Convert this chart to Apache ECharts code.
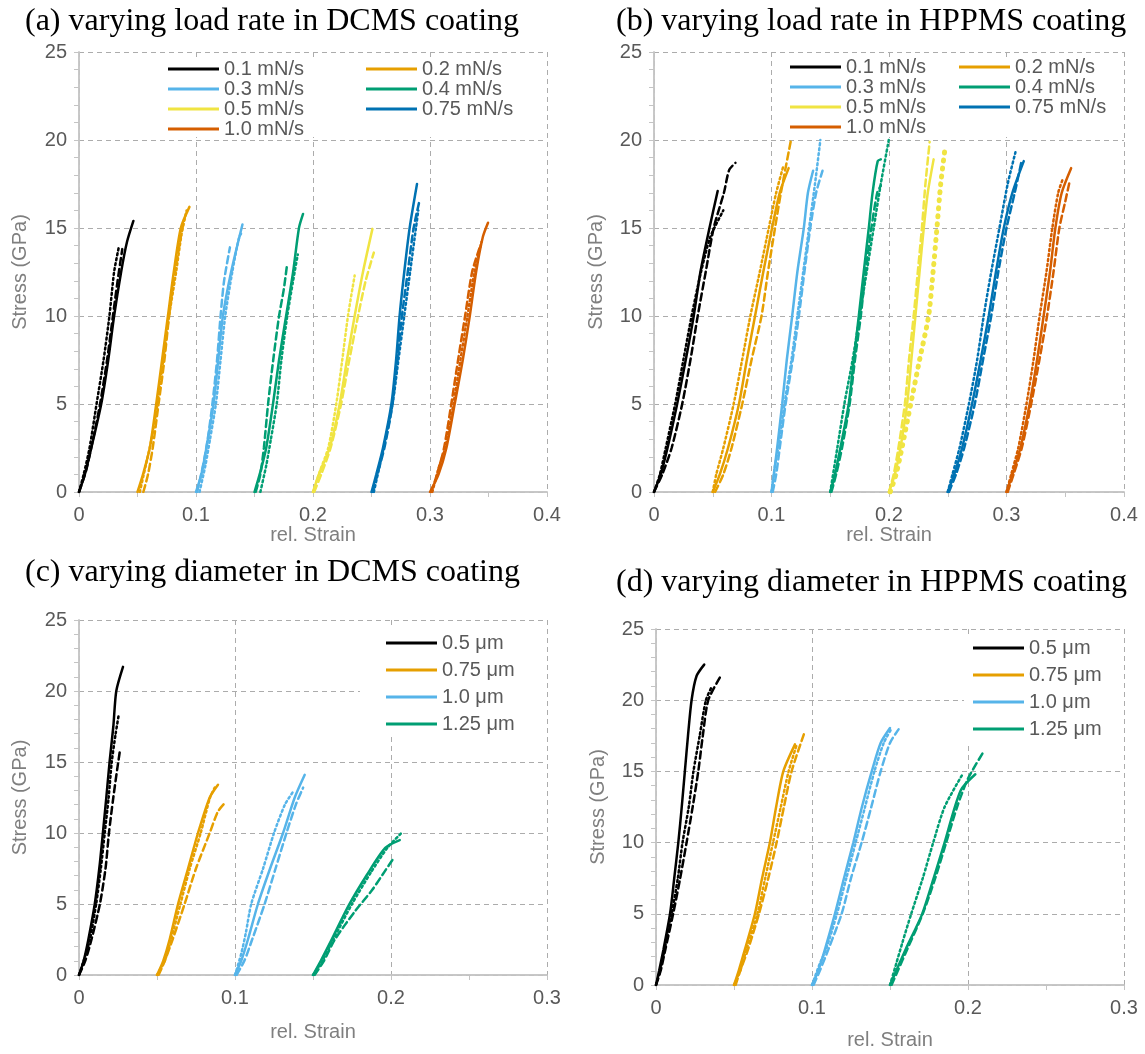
<!DOCTYPE html>
<html>
<head>
<meta charset="utf-8">
<script src="https://cdn.jsdelivr.net/npm/echarts@6/dist/echarts.min.js"></script>
<style>
  html, body { margin: 0; padding: 0; background: #fff; }
  #chart { width: 1145px; height: 1054px; }
</style>
</head>
<body>
<div id="chart"></div>
<script>
// legend names
const rateNames = ['0.1 mN/s', '0.2 mN/s', '0.3 mN/s', '0.4 mN/s', '0.5 mN/s', '0.75 mN/s', '1.0 mN/s']
const diamNames = ['0.5 μm', '0.75 μm', '1.0 μm', '1.25 μm']
const palette = ['#000000', '#E69F00', '#56B4E9', '#009E73', '#F0E442', '#0072B2', '#D55E00']

// tick values
const strainTicksAB = [0, 0.1, 0.2, 0.3, 0.4]
const strainTicksCD = [0, 0.1, 0.2, 0.3]
const stressTicks = [0, 5, 10, 15, 20, 25]

// ---- (a) load rate, DCMS : [strain, stress GPa] ----
const aBlack = [[0,0],[0.005,1],[0.0105,2.5],[0.019,5],[0.025,7.5],[0.030,10],[0.036,12.5],[0.041,14.2],[0.0465,15.4]]
const aBlackDash = [[0,0],[0.006,1.2],[0.012,3],[0.018,5],[0.024,7.5],[0.029,10],[0.033,12],[0.037,13.8]]
const aBlackDot = [[0,0],[0.004,1],[0.009,2.5],[0.015,5],[0.021,7.5],[0.026,10],[0.030,12.5],[0.034,13.9]]
const aOrange = [[0.05,0],[0.0547,1],[0.0605,2.5],[0.066,5],[0.071,7.5],[0.076,10],[0.081,12.5],[0.087,15],[0.0944,16.2]]
const aOrangeDash = [[0.055,0],[0.059,1],[0.063,2.5],[0.068,5],[0.073,7.5],[0.077,10],[0.082,12.5],[0.087,14.5],[0.090,15.5]]
const aOrangeDot = [[0.052,0],[0.057,1.5],[0.062,3],[0.067,5],[0.072,7.5],[0.077,10],[0.083,12.5],[0.088,14.8],[0.092,16]]
const aSky = [[0.1,0],[0.1046,1],[0.1089,2.5],[0.115,5],[0.119,7.5],[0.123,10],[0.130,12.5],[0.1397,15.2]]
const aSkyDash = [[0.101,0],[0.106,1.5],[0.110,3],[0.114,5],[0.118,7.5],[0.121,10],[0.124,12],[0.129,13.9]]
const aSkyDot = [[0.103,0],[0.108,1.5],[0.112,3],[0.117,5],[0.121,7.5],[0.125,10],[0.131,12.5],[0.137,14.5],[0.140,14.8]]
const aGreen = [[0.15,0],[0.1544,1],[0.160,2.5],[0.1658,5],[0.171,7.5],[0.177,10],[0.183,12.5],[0.188,15],[0.1915,15.8]]
const aGreenDash = [[0.151,0],[0.155,1],[0.158,2.5],[0.1616,5],[0.166,7.5],[0.171,10],[0.175,11.5],[0.1778,12.9]]
const aGreenDot = [[0.155,0],[0.160,1.5],[0.164,3],[0.169,5],[0.173,7.5],[0.178,10],[0.183,12],[0.187,13.5]]
const aYellow = [[0.2,0],[0.205,1],[0.2142,2.5],[0.2228,5],[0.229,7.5],[0.2356,10],[0.2427,12.5],[0.2508,14.95]]
const aYellowDash = [[0.201,0],[0.207,1],[0.215,2.5],[0.224,5],[0.231,7.5],[0.2385,10],[0.245,12],[0.252,13.6]]
const aYellowDot = [[0.2,0],[0.206,1.2],[0.213,2.5],[0.2199,5],[0.225,7.5],[0.2299,10],[0.2356,12.3]]
const aBlue = [[0.25,0],[0.2541,1],[0.2598,2.5],[0.267,5],[0.271,7.5],[0.274,10],[0.278,12.5],[0.2826,15],[0.2889,17.5]]
const aBlueDash = [[0.251,0],[0.255,1],[0.261,2.5],[0.268,5],[0.272,7.5],[0.276,10],[0.281,12.5],[0.286,15],[0.2912,16.6]]
const aBlueDot = [[0.252,0],[0.257,1.5],[0.262,3],[0.268,5],[0.273,7.5],[0.278,10],[0.283,12.5],[0.288,15],[0.290,16]]
const aRed = [[0.3,0],[0.3073,1],[0.314,2.5],[0.3211,5],[0.328,7.5],[0.334,10],[0.3394,12.5],[0.3452,14.5],[0.3496,15.3]]
const aRedDash = [[0.301,0],[0.306,1],[0.312,2.5],[0.3182,5],[0.324,7.5],[0.330,10],[0.336,12.5],[0.3425,13.9]]
const aRedDot = [[0.302,0],[0.308,1.5],[0.313,2.5],[0.320,5],[0.326,7.5],[0.332,10],[0.338,12.5],[0.344,14.2]]

// ---- (b) load rate, HPPMS ----
const bBlack = [[0,0],[0.0057,1],[0.0115,2.5],[0.0197,5],[0.027,7.5],[0.0338,10],[0.0395,12.5],[0.0472,15],[0.0542,17.1]]
const bBlackDash = [[0,0],[0.007,1],[0.015,2.5],[0.024,5],[0.031,7.5],[0.0372,10],[0.044,12.5],[0.0508,15],[0.0595,17],[0.064,18.3],[0.0693,18.7]]
const bBlackDot = [[0,0],[0.005,1],[0.010,2.5],[0.018,5],[0.025,7.5],[0.032,10],[0.040,12.5],[0.048,14.5],[0.059,16]]
const bOrange = [[0.05,0],[0.056,1],[0.063,2.5],[0.0723,5],[0.079,7.5],[0.086,10],[0.093,12.5],[0.1005,15],[0.107,17],[0.1146,18.4]]
const bOrangeDash = [[0.052,0],[0.059,1],[0.066,2.5],[0.0751,5],[0.083,7.5],[0.0915,10],[0.097,12.5],[0.103,15],[0.108,17],[0.1163,19.9]]
const bOrangeDot = [[0.05,0],[0.053,1],[0.059,2.5],[0.0678,5],[0.075,7.5],[0.082,10],[0.090,12.5],[0.0977,15],[0.104,17],[0.110,18.5]]
const bSky = [[0.1,0],[0.102,1],[0.1048,2.5],[0.1091,5],[0.113,7.5],[0.1176,10],[0.122,12.5],[0.1275,15],[0.131,17],[0.1354,18.25]]
const bSkyDash = [[0.101,0],[0.104,1],[0.107,2.5],[0.112,5],[0.118,7.5],[0.1233,10],[0.128,12.5],[0.133,15],[0.138,17],[0.1434,18.25]]
const bSkyDot = [[0.1,0],[0.103,1.5],[0.107,3],[0.111,5],[0.117,7.5],[0.122,10],[0.127,12.5],[0.132,15],[0.137,17.5],[0.1416,20]]
const bGreen = [[0.15,0],[0.154,1],[0.1586,2.5],[0.1657,5],[0.170,7.5],[0.1743,10],[0.1785,12.5],[0.1828,15],[0.186,17],[0.1904,18.8],[0.193,18.9]]
const bGreenDash = [[0.151,0],[0.155,1],[0.160,2.5],[0.1665,5],[0.171,7.5],[0.176,10],[0.180,12.5],[0.185,15],[0.190,17],[0.193,17.4]]
const bGreenDot = [[0.15,0],[0.156,2.5],[0.162,5],[0.169,7.5],[0.175,10],[0.181,12.5],[0.187,15],[0.193,17.5],[0.1998,20]]
const bYellow = [[0.2,0],[0.205,1],[0.2097,2.5],[0.2154,5],[0.219,7.5],[0.2225,10],[0.226,12.5],[0.2296,15],[0.233,17],[0.238,18.9]]
const bYellowDash = [[0.2,0],[0.204,1],[0.208,2.5],[0.2135,5],[0.217,7.5],[0.221,10],[0.2245,12.5],[0.228,15],[0.231,17.5],[0.2346,19.9]]
const bYellowDot = [[0.201,0],[0.206,1],[0.211,2.5],[0.2185,5],[0.226,7.5],[0.2337,10],[0.2375,12.5],[0.2408,15],[0.244,17.5],[0.248,19.7]]
const bBlue = [[0.25,0],[0.2555,1],[0.2622,2.5],[0.2707,5],[0.278,7.5],[0.2849,10],[0.291,12.5],[0.2977,15],[0.305,17],[0.3147,18.8]]
const bBlueDash = [[0.251,0],[0.257,1],[0.264,2.5],[0.273,5],[0.280,7.5],[0.287,10],[0.293,12.5],[0.300,15],[0.307,17],[0.3125,18.7]]
const bBlueDot = [[0.25,0],[0.254,1],[0.260,2.5],[0.268,5],[0.275,7.5],[0.2806,10],[0.287,12.5],[0.294,15],[0.301,17.5],[0.3076,19.3]]
const bRed = [[0.3,0],[0.305,1],[0.3118,2.5],[0.3197,5],[0.326,7.5],[0.3316,10],[0.337,12.5],[0.3416,15],[0.347,17],[0.355,18.4]]
const bRedDash = [[0.301,0],[0.306,1],[0.313,2.5],[0.321,5],[0.328,7.5],[0.3345,10],[0.340,12.5],[0.345,15],[0.350,16.5],[0.3539,17.7]]
const bRedDot = [[0.3,0],[0.304,1],[0.310,2.5],[0.317,5],[0.323,7.5],[0.3282,10],[0.334,12.5],[0.339,15],[0.344,17],[0.348,17.8]]

// ---- (c) diameter, DCMS ----
const cBlack = [[0,0],[0.003,1],[0.006,2.5],[0.0101,5],[0.013,7.5],[0.0153,10],[0.0175,12.5],[0.0196,15],[0.022,17.5],[0.0239,20],[0.0282,21.7]]
const cBlackDash = [[0,0],[0.004,1],[0.008,2.5],[0.0134,5],[0.017,7.5],[0.0192,10],[0.022,12.5],[0.0245,14.5],[0.0261,15.7]]
const cBlackDot = [[0,0],[0.003,1],[0.007,2.5],[0.011,5],[0.014,7.5],[0.0165,10],[0.019,12.5],[0.021,15],[0.0235,17],[0.0256,18.4]]
const cOrange = [[0.05,0],[0.054,1],[0.0581,2.5],[0.0635,5],[0.0699,7.5],[0.0763,10],[0.0838,12.5],[0.0891,13.4]]
const cOrangeDash = [[0.051,0],[0.055,1],[0.060,2.5],[0.0677,5],[0.075,7.5],[0.0838,10],[0.089,11.5],[0.0934,12.1]]
const cOrangeDot = [[0.05,0],[0.055,1],[0.059,2.5],[0.065,5],[0.071,7.5],[0.078,10],[0.084,12.5],[0.087,13.2]]
const cSky = [[0.1,0],[0.104,1],[0.1083,2.5],[0.1147,5],[0.1225,7.5],[0.1308,10],[0.1383,12.5],[0.1447,14.1]]
const cSkyDash = [[0.101,0],[0.106,1],[0.111,2.5],[0.119,5],[0.126,7.5],[0.133,10],[0.139,12],[0.1437,13.2]]
const cSkyDot = [[0.1,0],[0.104,1.5],[0.107,3],[0.1104,5],[0.118,7.5],[0.125,10],[0.132,12],[0.1372,12.9]]
const cGreen = [[0.15,0],[0.155,1],[0.1613,2.35],[0.1729,4.9],[0.1846,7.06],[0.1963,8.95],[0.2056,9.5]]
const cGreenDash = [[0.151,0],[0.157,1],[0.164,2.5],[0.177,4.5],[0.188,6],[0.196,7.3],[0.2009,8.1]]
const cGreenDot = [[0.15,0],[0.156,1],[0.163,2.5],[0.175,5],[0.187,7.2],[0.198,9],[0.2067,10]]

// ---- (d) diameter, HPPMS ----
const dBlack = [[0,0],[0.002,1],[0.0048,2.5],[0.009,5],[0.0117,7.5],[0.0143,10],[0.0165,12.5],[0.0185,15],[0.0205,17.5],[0.0228,20],[0.026,21.7],[0.0309,22.5]]
const dBlackDash = [[0,0],[0.003,1],[0.006,2.5],[0.011,5],[0.0155,7.5],[0.0196,10],[0.0235,12.5],[0.0271,15],[0.030,17.5],[0.0335,20],[0.041,21.6]]
const dBlackDot = [[0,0],[0.0025,1],[0.0055,2.5],[0.010,5],[0.014,7.5],[0.017,10],[0.021,12.5],[0.024,15],[0.028,17.5],[0.032,20],[0.036,21]]
const dOrange = [[0.05,0],[0.053,1],[0.057,2.5],[0.0634,5],[0.068,7.5],[0.073,10],[0.077,12.5],[0.0816,15],[0.0891,16.9]]
const dOrangeDash = [[0.051,0],[0.054,1],[0.059,2.5],[0.066,5],[0.072,7.5],[0.0773,10],[0.082,12.5],[0.0869,15],[0.0951,17.7]]
const dOrangeDot = [[0.05,0],[0.054,1],[0.058,2.5],[0.065,5],[0.070,7.5],[0.075,10],[0.080,12.5],[0.085,15],[0.090,16.8]]
const dSky = [[0.1,0],[0.104,1],[0.1083,2.5],[0.1147,5],[0.1205,7.5],[0.1265,10],[0.132,12.5],[0.1383,15],[0.144,17],[0.150,18.05]]
const dSkyDash = [[0.101,0],[0.105,1],[0.1105,2.5],[0.119,5],[0.125,7.5],[0.1318,10],[0.138,12.5],[0.144,15],[0.150,17],[0.1555,17.95]]
const dSkyDot = [[0.1,0],[0.105,1.5],[0.109,2.5],[0.116,5],[0.122,7.5],[0.128,10],[0.134,12.5],[0.140,15],[0.146,17],[0.151,18]]
const dGreen = [[0.15,0],[0.154,1],[0.160,2.5],[0.1706,4.98],[0.178,7.5],[0.1847,9.9],[0.1953,13.66],[0.2047,14.8]]
const dGreenDash = [[0.151,0],[0.155,1],[0.161,2.5],[0.171,5],[0.179,7.5],[0.186,10],[0.193,12.5],[0.200,14.5],[0.2101,16.4]]
const dGreenDot = [[0.15,0],[0.154,1.5],[0.158,3],[0.1636,5],[0.171,7.5],[0.1777,10],[0.185,12.5],[0.1965,14.8]]

const chart = echarts.init(document.getElementById('chart'))

const GRID_LINE = '#acacac'
const AXIS_LINE = '#c4c4c4'
const SANS = 'Liberation Sans'

// panel layout
const grids = [
  { left: 79, top: 52, width: 468, height: 440 },
  { left: 654, top: 52, width: 470, height: 440 },
  { left: 79, top: 620, width: 468, height: 355 },
  { left: 656, top: 629, width: 468, height: 356 },
]
const xMax = [0.4, 0.4, 0.3, 0.3]
const xNameGap = [33, 33, 47, 45]
const yNameGap = [49, 48, 49, 48]

const xAxes = []
const yAxes = []
grids.forEach((g, i) => {
  xAxes.push({
    gridIndex: i, type: 'value', min: 0, max: xMax[i], interval: 0.1,
    name: 'rel. Strain', nameLocation: 'middle', nameGap: xNameGap[i],
    nameTextStyle: { color: '#7f7f7f', fontSize: 20, fontFamily: SANS },
    axisLine: { lineStyle: { color: AXIS_LINE, width: 1.5 } },
    axisTick: { show: true, length: 5, lineStyle: { color: AXIS_LINE } },
    minorTick: { show: true, splitNumber: 2, length: 5, lineStyle: { color: AXIS_LINE } },
    axisLabel: { color: '#595959', fontSize: 20, fontFamily: SANS, margin: 13 },
    splitLine: { show: true, lineStyle: { color: GRID_LINE, type: [5, 4] } },
  })
  xAxes.push({
    gridIndex: i, type: 'value', min: 0, max: xMax[i], interval: 0.1, position: 'top',
    axisLine: { show: true, lineStyle: { color: AXIS_LINE, width: 1.5 } },
    axisTick: { show: true, inside: true, length: 5, lineStyle: { color: AXIS_LINE } },
    minorTick: { show: true, splitNumber: 2, length: 5, lineStyle: { color: AXIS_LINE } },
    axisLabel: { show: false },
    splitLine: { show: false },
  })
  yAxes.push({
    gridIndex: i, type: 'value', min: 0, max: 25, interval: 5,
    name: 'Stress (GPa)', nameLocation: 'middle', nameGap: yNameGap[i], nameRotate: 90,
    nameTextStyle: { color: '#7f7f7f', fontSize: 20, fontFamily: SANS },
    axisLine: { show: true, lineStyle: { color: AXIS_LINE, width: 1.5 } },
    axisTick: { show: true, length: 5, lineStyle: { color: AXIS_LINE } },
    minorTick: { show: true, splitNumber: 5, length: 5, lineStyle: { color: AXIS_LINE } },
    axisLabel: { color: '#595959', fontSize: 20, fontFamily: SANS, margin: 12 },
    splitLine: { show: true, lineStyle: { color: GRID_LINE, type: [5, 4] } },
  })
  yAxes.push({
    gridIndex: i, type: 'value', min: 0, max: 25, interval: 5, position: 'right',
    axisLine: { show: true, lineStyle: { color: AXIS_LINE, width: 1.5 } },
    axisTick: { show: true, inside: true, length: 5, lineStyle: { color: AXIS_LINE } },
    minorTick: { show: true, splitNumber: 5, length: 5, lineStyle: { color: AXIS_LINE } },
    axisLabel: { show: false },
    splitLine: { show: false },
  })
})

const series = []
const DASH = [7, 4]
const DOT = [2, 3]
function addCurve(panel, name, color, data, type, width) {
  series.push({
    type: 'line', name: name, xAxisIndex: panel * 2, yAxisIndex: panel * 2,
    data: data, showSymbol: false, symbol: 'none', smooth: 0.25,
    lineStyle: { color: color, width: width || 2.5, type: type, cap: 'round' },
    itemStyle: { color: color },
    z: 2,
  })
}
function addGroup(panel, name, color, solid, dash, dot, dotWidth) {
  addCurve(panel, name, color, solid, 'solid')
  addCurve(panel, name + ' ', color, dash, DASH)
  addCurve(panel, name + '  ', color, dot, dotWidth ? [1, 7] : DOT, dotWidth)
}

const aSets = [[aBlack, aBlackDash, aBlackDot], [aOrange, aOrangeDash, aOrangeDot], [aSky, aSkyDash, aSkyDot],
  [aGreen, aGreenDash, aGreenDot], [aYellow, aYellowDash, aYellowDot], [aBlue, aBlueDash, aBlueDot], [aRed, aRedDash, aRedDot]]
const bSets = [[bBlack, bBlackDash, bBlackDot], [bOrange, bOrangeDash, bOrangeDot], [bSky, bSkyDash, bSkyDot],
  [bGreen, bGreenDash, bGreenDot], [bYellow, bYellowDash, bYellowDot], [bBlue, bBlueDash, bBlueDot], [bRed, bRedDash, bRedDot]]
const cSets = [[cBlack, cBlackDash, cBlackDot], [cOrange, cOrangeDash, cOrangeDot], [cSky, cSkyDash, cSkyDot], [cGreen, cGreenDash, cGreenDot]]
const dSets = [[dBlack, dBlackDash, dBlackDot], [dOrange, dOrangeDash, dOrangeDot], [dSky, dSkyDash, dSkyDot], [dGreen, dGreenDash, dGreenDot]]

aSets.forEach((s, i) => addGroup(0, rateNames[i], palette[i], s[0], s[1], s[2]))
bSets.forEach((s, i) => addGroup(1, rateNames[i], palette[i], s[0], s[1], s[2], i === 4 ? 5 : 0))
cSets.forEach((s, i) => addGroup(2, diamNames[i], palette[i], s[0], s[1], s[2]))
dSets.forEach((s, i) => addGroup(3, diamNames[i], palette[i], s[0], s[1], s[2]))

function legend(left, top, names, gap) {
  return {
    left: left, top: top, orient: 'vertical', data: names, z: 10,
    icon: 'rect', itemWidth: 51, itemHeight: 3, itemGap: gap, padding: 0,
    selectedMode: false,
    textStyle: { color: '#595959', fontSize: 20, fontFamily: SANS, lineHeight: 20 },
  }
}
const col1 = [rateNames[0], rateNames[2], rateNames[4], rateNames[6]]
const col2 = [rateNames[1], rateNames[3], rateNames[5]]

function title(text, left, top) {
  return {
    text: text, left: left, top: top, padding: 0,
    textStyle: { fontFamily: 'Liberation Serif', fontSize: 32, fontWeight: 'normal', color: '#000' },
  }
}

// white boxes behind legends (hide grid lines there)
function whiteBox(x, y, w, h) {
  return { type: 'rect', z: 5, shape: { x: x, y: y, width: w, height: h }, style: { fill: '#fff' } }
}

chart.setOption({
  backgroundColor: '#fff',
  animation: false,
  title: [
    title('(a) varying load rate in DCMS coating', 25, 6),
    title('(b) varying load rate in HPPMS coating', 616, 6),
    title('(c) varying diameter in DCMS coating', 25, 557),
    title('(d) varying diameter in HPPMS coating', 616, 567),
  ],
  grid: grids,
  xAxis: xAxes,
  yAxis: yAxes,
  legend: [
    legend(168, 59, col1, 0),
    legend(366, 59, col2, 0),
    legend(790, 57, col1, 0),
    legend(959, 57, col2, 0),
    legend(386, 633, diamNames, 7),
    legend(973, 638, diamNames, 7),
  ],
  graphic: [
    whiteBox(150, 57, 375, 80),
    whiteBox(780, 57, 338, 80),
    whiteBox(360, 625, 185, 108),
    whiteBox(964, 634, 158, 109),
  ],
  series: series,
})
</script>
</body>
</html>
